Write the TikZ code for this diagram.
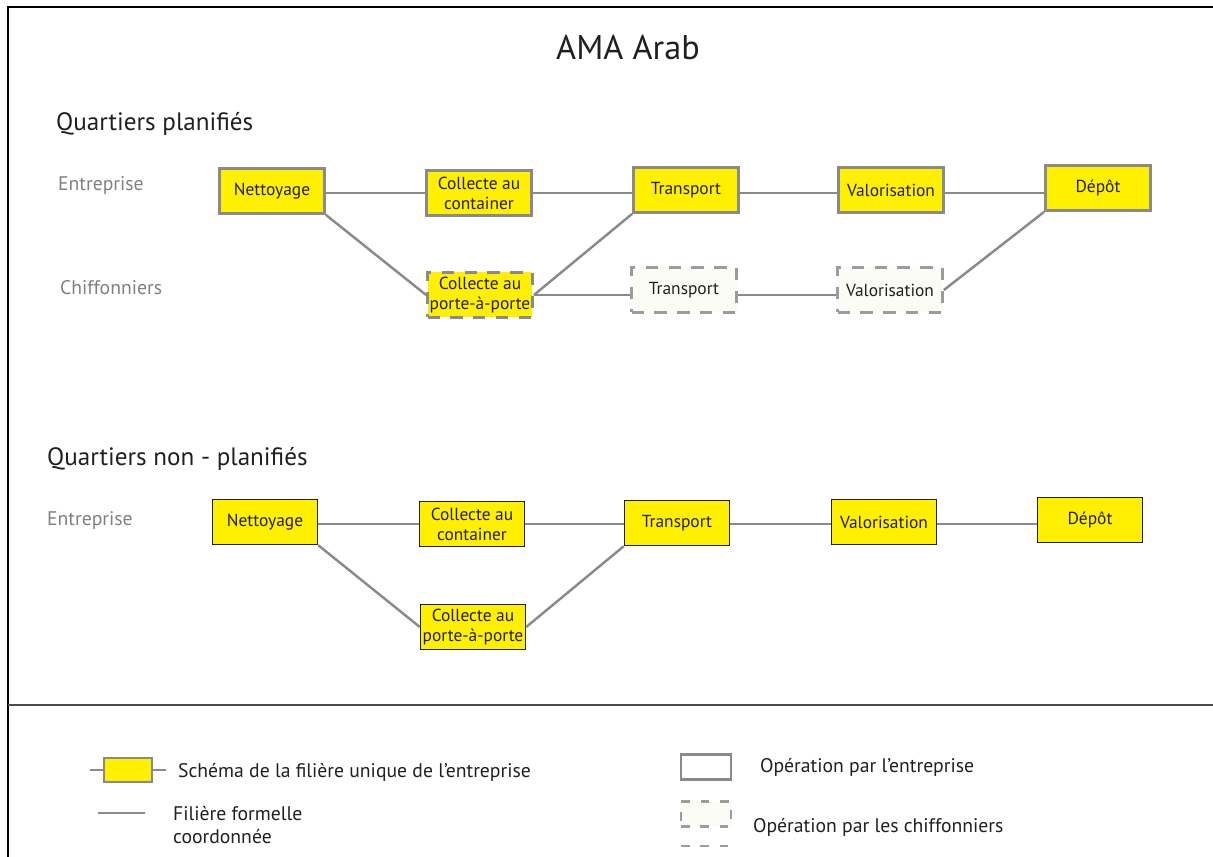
\documentclass[tikz,border=0pt]{standalone}
\usepackage{fontspec}
\setmainfont{PT Sans}
\definecolor{boxyellow}{HTML}{FFF000}
\definecolor{linegray}{HTML}{8A8A8A}
\definecolor{dashgray}{HTML}{9C9C9C}
\definecolor{paper}{HTML}{FCFCF6}
\definecolor{ink}{HTML}{231F20}
\begin{document}
\begin{tikzpicture}[x=0.02cm, y=-0.02cm,
	every node/.style={font=\fontsize{9.9}{11.3}\selectfont, text=ink, align=center, inner sep=1pt},
	opbox/.style={draw=linegray, line width=1.6pt, fill=boxyellow, minimum width=2.1cm, minimum height=0.9cm},
	chbox/.style={draw=dashgray, line width=1.6pt, dash pattern=on 7pt off 6pt, fill=paper, minimum width=2.1cm, minimum height=0.9cm},
	plainbox/.style={draw=ink, line width=0.8pt, fill=boxyellow, minimum width=2.1cm, minimum height=0.9cm},
	rowlabel/.style={text=gray, font=\fontsize{11.2}{13}\selectfont, anchor=west},
	heading/.style={font=\fontsize{14.3}{17}\selectfont, anchor=west},
	legend/.style={font=\fontsize{11.2}{13.5}\selectfont, anchor=west, align=left},
	link/.style={draw=linegray, line width=1.4pt}]
	\useasboundingbox (0,0) rectangle (1213,857);
	% frame
	\draw[line width=1pt] (8,857) -- (8,7) -- (1213,7);
	\draw[line width=1.2pt, black!70] (8,705) -- (1213,705);
	\node[font=\fontsize{19.5}{22}\selectfont] (title) at (628,47) {AMA Arab};

	% quartiers planifies
	\node[heading] (qp) at (54,124) {Quartiers planifiés};
	\node[rowlabel] (ent1) at (56,186) {Entreprise};
	\node[rowlabel] (chf1) at (58,288) {Chiffonniers};
	\node[opbox] (n1) at (272,191) {Nettoyage};
	\node[opbox] (c1) at (479,193) {Collecte au\\container};
	\node[opbox] (t1) at (686,190) {Transport};
	\node[opbox] (v1) at (891,190) {Valorisation};
	\node[opbox] (d1) at (1098,188) {Dépôt};
	\node[chbox, fill=boxyellow, draw=linegray] (pp1) at (480,295) {Collecte au\\porte-à-porte};
	\node[chbox] (tc1) at (684,290) {Transport};
	\node[chbox] (vc1) at (890,290) {Valorisation};
	\draw[link] (n1.east |- c1.east) -- (c1.west);
	\draw[link] (c1.east) -- (c1.east -| t1.west);
	\draw[link] (t1.east |- c1.east) -- (c1.east -| v1.west);
	\draw[link] (v1.east |- c1.east) -- (c1.east -| d1.west);
	\draw[link] (n1.south east) -- (pp1.west);
	\draw[link] (pp1.east) -- (t1.south west);
	\draw[link] (pp1.east) -- (pp1.east -| tc1.west);
	\draw[link] (tc1.east |- pp1.east) -- (pp1.east -| vc1.west);
	\draw[link] (vc1.east) -- (d1.south west);

	% quartiers non planifies
	\node[heading] (qn) at (45,459) {Quartiers non - planifiés};
	\node[rowlabel] (ent2) at (45,521) {Entreprise};
	\node[plainbox] (n2) at (265,522) {Nettoyage};
	\node[plainbox] (c2) at (472,524) {Collecte au\\container};
	\node[plainbox] (t2) at (677,523) {Transport};
	\node[plainbox] (v2) at (884,522) {Valorisation};
	\node[plainbox] (d2) at (1090,520) {Dépôt};
	\node[plainbox] (pp2) at (473,627) {Collecte au\\porte-à-porte};
	\draw[link] (n2.east |- c2.east) -- (c2.west);
	\draw[link] (c2.east) -- (c2.east -| t2.west);
	\draw[link] (t2.east |- c2.east) -- (c2.east -| v2.west);
	\draw[link] (v2.east |- c2.east) -- (c2.east -| d2.west);
	\draw[link] (n2.south east) -- (pp2.west);
	\draw[link] (pp2.east) -- (t2.south west);

	% legende
	\coordinate (lgl) at (90,770);
	\coordinate (lgr) at (166,770);
	\draw[link, line width=1.2pt] (lgl) -- (lgr);
	\node[opbox, line width=1pt, minimum width=0.96cm, minimum height=0.48cm] (lgbox) at (128,770) {};
	\node[legend] (lgt1) at (176,772) {Schéma de la filière unique de l’entreprise};
	\coordinate (lfl) at (98,813);
	\coordinate (lfr) at (145,813);
	\draw[link, line width=1.2pt] (lfl) -- (lfr);
	\node[legend] (lgt2) at (171,825) {Filière formelle\\coordonnée};
	\node[draw=linegray, line width=1.6pt, fill=white, minimum width=1.0cm, minimum height=0.5cm] (lgent) at (706,767) {};
	\node[legend] (lgt3) at (758,767) {Opération par l’entreprise};
	\node[chbox, line width=1.4pt, minimum width=1.0cm, minimum height=0.5cm, dash pattern=on 5pt off 6pt] (lgchf) at (706,814) {};
	\coordinate (lcl) at (681,846);
	\coordinate (lcr) at (732,846);
	\draw[draw=dashgray, line width=1.4pt, dash pattern=on 5pt off 6pt] (lcl) -- (lcr);
	\node[legend] (lgt4) at (751,827) {Opération par les chiffonniers};
\end{tikzpicture}
\end{document}
